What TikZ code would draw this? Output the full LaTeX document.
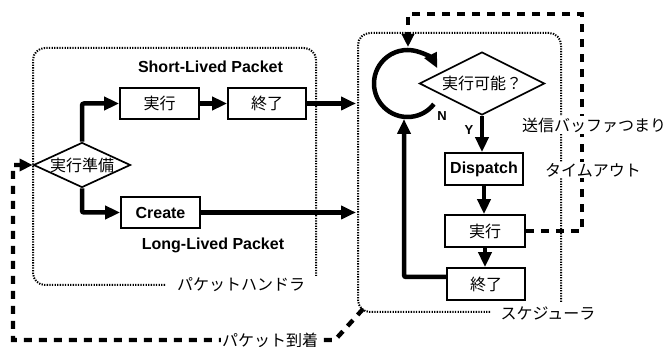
\documentclass[tikz,border=0pt]{standalone}
\usepackage{fontspec}
\setmainfont{Liberation Sans}
\newfontfamily\jp{Noto Sans CJK JP}
\usetikzlibrary{arrows.meta,shapes.geometric}

\begin{document}
\begin{tikzpicture}[x=1pt,y=-1pt,
  jpt/.style={font=\jp\fontsize{16}{19}\selectfont},
  lat/.style={font=\bfseries\fontsize{16}{19}\selectfont},
  box/.style={draw, line width=1.7pt, fill=white, inner sep=0pt,
              minimum width=79pt, minimum height=31pt},
  dia/.style={draw, shape=diamond, line width=1.7pt, fill=white, inner sep=0pt},
  flow/.style={line width=4.5pt, rounded corners=2pt,
               -{Triangle[length=15pt,width=13pt]}},
  jump/.style={line width=4.4pt, dash pattern=on 8pt off 7pt,
               -{Triangle[length=13pt,width=12pt]}},
  region/.style={line width=2pt, dash pattern=on 1.3pt off 1.3pt,
                 rounded corners=12pt},
  tag/.style={jpt, fill=white, inner sep=1.5pt}
]
\useasboundingbox (0,0) rectangle (667,347);

% dotted regions: packet handler and scheduler
\draw[region] (165,285) -| (33,48) -| (316,276);
\draw[region] (490,312) -| (358,33) -| (561,302);

% packet handler
\node[dia, minimum width=97pt, minimum height=45pt, jpt] (prep) at (82,165) {\makebox[0pt]{実行準備}};
\node[box, jpt] (sexec) at (159.5,103.5) {実行};
\node[box, jpt, minimum width=78pt] (send) at (267,103.5) {終了};
\node[box, lat] (create) at (160.5,212.5) {Create};
\node[lat] (short) at (210.5,67) {Short-Lived Packet};
\node[lat] (long) at (213,245) {Long-Lived Packet};

% scheduler
\node[dia, minimum width=125pt, minimum height=63pt, jpt] (cond) at (482,83.5) {\makebox[0pt]{実行可能？}};
\node[box, lat, minimum width=78pt, minimum height=32pt] (disp) at (484,169) {Dispatch};
\node[box, jpt, minimum width=80pt, minimum height=32pt] (xexec) at (485,231) {実行};
\node[box, jpt, minimum width=78pt, minimum height=32pt] (xend) at (486,284) {終了};
\node[font=\bfseries\fontsize{13}{15}\selectfont, inner sep=0pt] (nlab) at (442,116) {N};
\node[font=\bfseries\fontsize{13}{15}\selectfont, inner sep=0pt] (ylab) at (469,130) {Y};

% free ends of connectors
\coordinate (inA) at (356,103.5);
\coordinate (inB) at (356,212.5);
\coordinate (loopTop) at (408,47);
\coordinate (loopBot) at (404,119);
\coordinate (schedCorner) at (363,309);
\coordinate (bend) at (335,340);
\coordinate (bl) at (13,340);
\coordinate (tr) at (582,14);

% packet handler flow
\draw[flow] (prep.north) |- (sexec.west);
\draw[flow] (prep.south) |- (create.west);
\draw[flow] (sexec.east) -- (send.west);
\draw[flow] (send.east) -- (inA);
\draw[flow] (create.east) -- (inB);

% scheduler flow
\draw[flow] (407.5,83.5) ++(38:33.5) arc[start angle=38, end angle=333, radius=33.5];
\draw[flow] (cond.south) -- (cond.south |- disp.north);
\draw[flow] (disp.south) -- (disp.south |- xexec.north);
\draw[flow] (xexec.south) -- (xexec.south |- xend.north);
\draw[flow] ([yshift=7pt]xend.west) -| (loopBot);

% dashed jumps
\draw[jump] (xexec.east) -| (tr) -| (loopTop);
\draw[jump] (schedCorner) -- (bend) -- (bl) |- (prep.west);

% labels laid over the lines
\node[tag] (handlerLab) at (241,285) {パケットハンドラ};
\node[tag] (schedLab) at (548,313) {スケジューラ};
\node[tag] (arriveLab) at (270,340) {パケット到着};
\node[tag] (bufLab) at (594,125) {送信バッファつまり};
\node[tag] (timeLab) at (593,170) {タイムアウト};
\end{tikzpicture}
\end{document}
